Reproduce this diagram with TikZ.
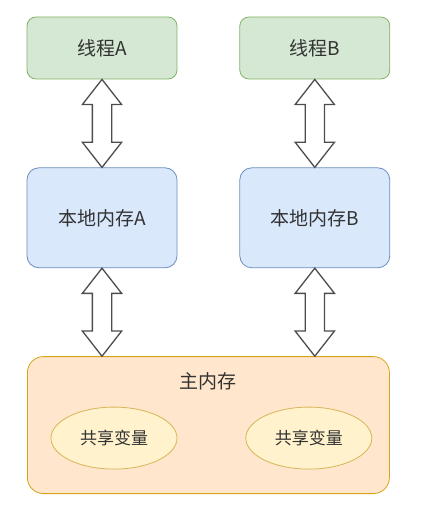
\documentclass[tikz,border=0pt]{standalone}
\usepackage{fontspec}
\setmainfont{Noto Sans CJK SC}
\usetikzlibrary{positioning, calc, shapes.arrows, shapes.geometric}
\definecolor{clrThr}{HTML}{D5E8D4}
\definecolor{clrThrBd}{HTML}{82B366}
\definecolor{clrLoc}{HTML}{DAE8FC}
\definecolor{clrLocBd}{HTML}{6C8EBF}
\definecolor{clrMem}{HTML}{FFE6CC}
\definecolor{clrMemBd}{HTML}{D6A31A}
\definecolor{clrVar}{HTML}{FFF2CC}
\definecolor{clrVarBd}{HTML}{D6B656}
\definecolor{clrTxt}{HTML}{333333}
\definecolor{clrArr}{HTML}{4D4D4D}

\begin{document}
\begin{tikzpicture}[x=1pt, y=1pt,
    thread/.style={rectangle, rounded corners=9pt, draw=clrThrBd, fill=clrThr,
      line width=0.8pt, minimum width=150pt, minimum height=62pt,
      text=clrTxt, font=\fontsize{19}{22}\selectfont},
    localmem/.style={rectangle, rounded corners=12pt, draw=clrLocBd, fill=clrLoc,
      line width=0.8pt, minimum width=150pt, minimum height=100pt,
      text=clrTxt, font=\fontsize{19}{22}\selectfont},
    sharedvar/.style={ellipse, draw=clrVarBd, fill=clrVar, line width=0.8pt,
      minimum width=126pt, minimum height=62pt, inner sep=0pt,
      text=clrTxt, font=\fontsize{17}{20}\selectfont},
    dblarrow/.style={double arrow, draw=clrArr, fill=white, line width=1.3pt,
      rotate=90, minimum height=88pt, inner sep=9pt,
      double arrow head extend=10pt, double arrow tip angle=76}]
  \useasboundingbox (0,0) rectangle (422,-516);

  % threads and their local memories
  \node[thread] (ta) at (102,-48) {线程A};
  \node[thread, right=62pt of ta] (tb) {线程B};
  \node[localmem, below=88pt of ta] (la) {本地内存A};
  \node[localmem, below=88pt of tb] (lb) {本地内存B};

  % main memory
  \node[rectangle, rounded corners=16pt, draw=clrMemBd, fill=clrMem,
        line width=0.8pt, minimum width=362pt, minimum height=137pt,
        below=88pt of $(la.south)!0.5!(lb.south)$] (mem) {};
  \node[text=clrTxt, font=\fontsize{19}{22}\selectfont]
        (memtitle) at ($(mem.north)+(0,-25)$) {主内存};
  \node[sharedvar] (va) at ($(mem.west)+(87,-13)$) {共享变量};
  \node[sharedvar] (vb) at ($(mem.east)+(-81,-13)$) {共享变量};

  % read / write arrows
  \node[dblarrow] (ara) at ($(ta.south)!0.5!(la.north)$) {};
  \node[dblarrow] (arb) at ($(tb.south)!0.5!(lb.north)$) {};
  \node[dblarrow] (ama) at ($(la.south)!0.5!(la.south|-mem.north)$) {};
  \node[dblarrow] (amb) at ($(lb.south)!0.5!(lb.south|-mem.north)$) {};
\end{tikzpicture}
\end{document}
